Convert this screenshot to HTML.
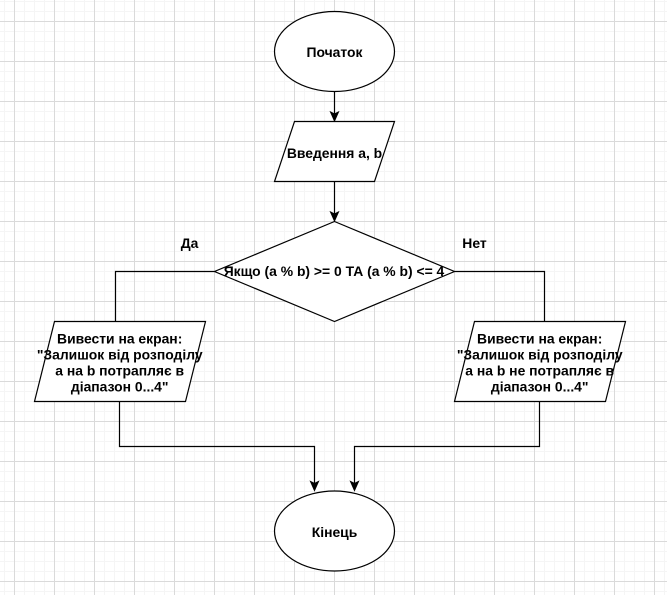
<!DOCTYPE html>
<html><head><meta charset="utf-8">
<style>
html,body{margin:0;padding:0;background:#fff;}
svg{display:block;}
text{font-family:"Liberation Sans","DejaVu Sans",sans-serif;font-weight:bold;font-size:13.9px;fill:#000;text-anchor:middle;}
</style></head>
<body>
<svg width="667" height="595" viewBox="0 0 667 595" xmlns="http://www.w3.org/2000/svg">
<defs>
<pattern id="minor" width="10" height="10" patternUnits="userSpaceOnUse" x="4" y="1">
<path d="M0.5 0 V10 M0 0.5 H10" stroke="#f5f5f5" stroke-width="1" fill="none"/>
</pattern>
<pattern id="major" width="40" height="40" patternUnits="userSpaceOnUse" x="14" y="21">
<path d="M0.5 0 V40 M0 0.5 H40" stroke="#dadada" stroke-width="1" fill="none"/>
</pattern>
</defs>
<rect width="667" height="595" fill="#fff"/>
<rect width="667" height="595" fill="url(#minor)"/>
<rect width="667" height="595" fill="url(#major)"/>

<g stroke="#000" stroke-width="1.2" fill="#fff">
<ellipse cx="334.5" cy="51.5" rx="60" ry="40"/>
<polygon points="294.5,121.5 394.5,121.5 374.5,181.5 274.5,181.5"/>
<polygon points="334.5,221.5 454.5,271.5 334.5,321.5 214.5,271.5"/>
<polygon points="54.5,321.5 205.5,321.5 185.5,401.5 34.5,401.5"/>
<polygon points="474.5,321.5 625.5,321.5 605.5,401.5 454.5,401.5"/>
<ellipse cx="334.5" cy="531" rx="60" ry="40"/>
</g>

<g stroke="#000" stroke-width="1.2" fill="none">
<path d="M334.5 91.5 V114"/>
<path d="M334.5 181.5 V214"/>
<path d="M214.5 271.5 H115.5 V321.5"/>
<path d="M454.5 271.5 H544.5 V321.5"/>
<path d="M119.5 401.5 V446.5 H314.5 V483"/>
<path d="M539.5 401.5 V446.5 H354.5 V483"/>
</g>

<g fill="#000" stroke="#000" stroke-width="1">
<path d="M334.5 121 L330.5 112 L334.5 114 L338.5 112 Z"/>
<path d="M334.5 221 L330.5 212 L334.5 214 L338.5 212 Z"/>
<path d="M314.5 490.5 L310.5 481.5 L314.5 483.5 L318.5 481.5 Z"/>
<path d="M354.5 490.5 L350.5 481.5 L354.5 483.5 L358.5 481.5 Z"/>
</g>

<text x="334.5" y="57">Початок</text>
<text x="334.5" y="158">Введення a, b</text>
<text x="334" y="276">Якщо (a % b) &gt;= 0 ТА (a % b) &lt;= 4</text>
<text x="189.5" y="248">Да</text>
<text x="474.5" y="248">Нет</text>

<text x="119.7" y="343.5">Вивести на екран:</text>
<text x="119.7" y="359.5">"Залишок від розподілу</text>
<text x="119.7" y="375.5">a на b потрапляє в</text>
<text x="119.7" y="391.5">діапазон 0...4"</text>

<text x="539.7" y="343.5">Вивести на екран:</text>
<text x="539.7" y="359.5">"Залишок від розподілу</text>
<text x="539.7" y="375.5">a на b не потрапляє в</text>
<text x="539.7" y="391.5">діапазон 0...4"</text>

<text x="334.5" y="537">Кінець</text>
</svg>
</body></html>
